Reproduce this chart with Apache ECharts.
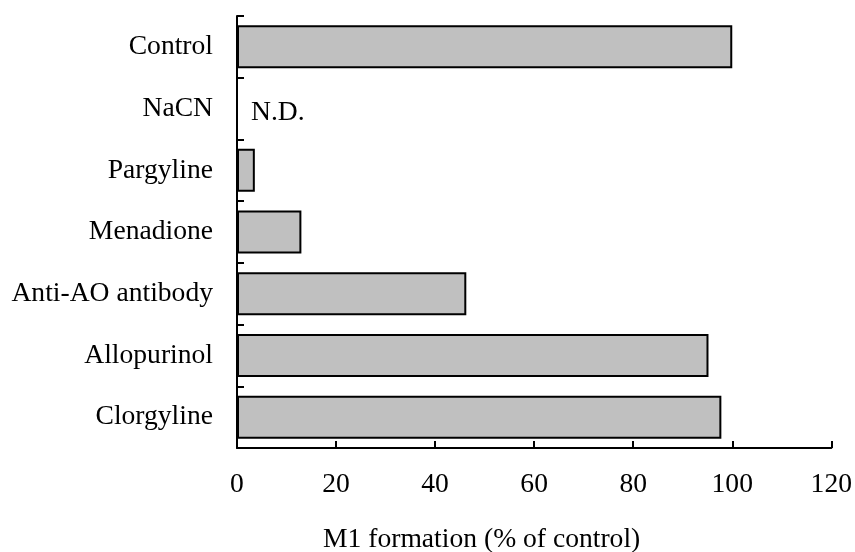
<!DOCTYPE html>
<html>
<head>
<meta charset="utf-8">
<script src="https://cdn.jsdelivr.net/npm/echarts@6/dist/echarts.min.js"></script>
<style>html,body{margin:0;padding:0;background:#fff;}#c{width:855px;height:552px;}</style>
</head>
<body>
<div id="c"></div>
<script>
var categories = ['Control', 'NaCN', 'Pargyline', 'Menadione', 'Anti-AO antibody', 'Allopurinol', 'Clorgyline'];
var values = [100, 0, 3.6, 13.0, 46.3, 95.2, 97.8];
var notes = ['', 'N.D.', '', '', '', '', ''];
var xTicks = [0, 20, 40, 60, 80, 100, 120];
var xTitle = 'M1 formation (% of control)';

var FONT = 'Liberation Serif, Times New Roman, serif';
var FS = 27.6;
var chart = echarts.init(document.getElementById('c'), null, {renderer: 'canvas'});
var barData = values.map(function (v, i) {
  if (notes[i]) {
    return {value: v, itemStyle: {borderWidth: 0, color: 'transparent'},
      label: {show: true, position: 'right', distance: 14, offset: [0, 4], formatter: notes[i],
        color: '#000', fontSize: FS, fontFamily: FONT}};
  }
  return v;
});
chart.setOption({
  animation: false,
  backgroundColor: '#fff',
  title: {
    text: xTitle, left: 323, top: 526, padding: 0,
    textStyle: {color: '#000', fontSize: FS, fontWeight: 'normal', fontFamily: FONT}
  },
  grid: {left: 237, right: 23, top: 16, bottom: 104, containLabel: false},
  xAxis: {
    type: 'value', min: xTicks[0], max: xTicks[xTicks.length - 1], interval: 20,
    axisLine: {show: true, lineStyle: {color: '#000', width: 2}},
    axisTick: {show: true, inside: true, length: 7, lineStyle: {color: '#000', width: 2}},
    axisLabel: {color: '#000', fontSize: FS, fontFamily: FONT, margin: 23},
    splitLine: {show: false}
  },
  yAxis: {
    type: 'category', data: categories, inverse: true,
    axisLine: {show: true, lineStyle: {color: '#000', width: 2}},
    axisTick: {show: true, inside: true, length: 7, lineStyle: {color: '#000', width: 2}},
    axisLabel: {color: '#000', fontSize: FS, fontFamily: FONT, margin: 24}
  },
  series: [{
    type: 'bar', data: barData, barWidth: 43,
    itemStyle: {color: '#c0c0c0', borderColor: '#000', borderWidth: 2}
  }]
});
</script>
</body>
</html>
